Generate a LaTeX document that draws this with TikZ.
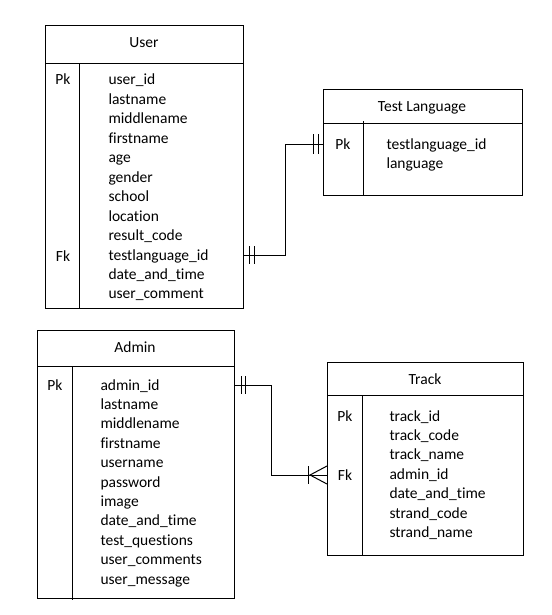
\documentclass[tikz,border=0pt]{standalone}
\usepackage{fontspec}
\setmainfont{Carlito}[Ligatures={NoCommon}]
\usetikzlibrary{positioning}

\begin{document}
\begin{tikzpicture}[x=1pt,y=-1pt,line width=1pt,
    entity/.style={draw,anchor=north west,inner sep=0pt},
    label/.style={inner sep=0pt,text height=12pt,text depth=2pt,font=\fontsize{15.5}{18}\selectfont},
    field/.style={label,anchor=west}]
    \useasboundingbox (0,0) rectangle (551,615);

    % User
    \node[entity,minimum width=198,minimum height=283] (user) at (45,25) {};
    \node[label] (user-t) at (144,43) {User};
    \draw (45,64) -- (243,64) (79,64) -- (79,308);
    \node[label] (user-pk) at (63,80) {Pk};
    \node[label] (user-fk) at (63,256) {Fk};
    \foreach \f [count=\i] in {user\_id,lastname,middlename,firstname,age,gender,school,location,result\_code,testlanguage\_id,date\_and\_time,user\_comment}
        \node[field] (user-f\i) at (108,{80+19.45*(\i-1)}) {\f};

    % Test Language
    \node[entity,minimum width=199,minimum height=106] (tl) at (323,89) {};
    \node[label] (tl-t) at (422,106) {Test Language};
    \draw (323,123) -- (522,123) (363,121) -- (363,195);
    \node[label] (tl-pk) at (343,144) {Pk};
    \foreach \f [count=\i] in {testlanguage\_id,language}
        \node[field] (tl-f\i) at (386,{144+19.45*(\i-1)}) {\f};

    % Admin
    \node[entity,minimum width=197,minimum height=268] (admin) at (37,330) {};
    \node[label] (admin-t) at (135,347) {Admin};
    \draw (37,366) -- (234,366) (72,366) -- (72,600);
    \node[label] (admin-pk) at (55,385) {Pk};
    \foreach \f [count=\i] in {admin\_id,lastname,middlename,firstname,username,password,image,date\_and\_time,test\_questions,user\_comments,user\_message}
        \node[field] (admin-f\i) at (100,{385+19.4*(\i-1)}) {\f};

    % Track
    \node[entity,minimum width=196,minimum height=193] (track) at (327,362) {};
    \node[label] (track-t) at (425,379) {Track};
    \draw (327,395) -- (523,395) (362,395) -- (362,555);
    \node[label] (track-pk) at (345,416) {Pk};
    \node[label] (track-fk) at (345,475) {Fk};
    \foreach \f [count=\i] in {track\_id,track\_code,track\_name,admin\_id,date\_and\_time,strand\_code,strand\_name}
        \node[field] (track-f\i) at (389,{416+19.45*(\i-1)}) {\f};

    % relations
    \coordinate (bend1) at (285,0);
    \coordinate (bend2) at (271,0);
    \draw (user.east |- user-f10) -| (bend1 |- tl-pk) -- (tl.west |- tl-pk);
    \foreach \dx in {5,10} \draw ([xshift=\dx]user.east |- user-f10) +(0,-9) -- +(0,9);
    \foreach \dx in {-5,-10} \draw ([xshift=\dx]tl.west |- tl-pk) +(0,-10) -- +(0,10);

    \draw (admin.east |- admin-f1) -| (bend2 |- track-fk) -- (track.west |- track-fk);
    \foreach \dx in {6,10} \draw ([xshift=\dx]admin.east |- admin-f1) +(0,-9) -- +(0,9);
    \draw ([xshift=-19]track.west |- track-fk) +(0,-9) -- +(0,9);
    \draw ([yshift=-9]track.west |- track-fk) -- ([xshift=-17]track.west |- track-fk) -- ([yshift=9]track.west |- track-fk);
\end{tikzpicture}
\end{document}
